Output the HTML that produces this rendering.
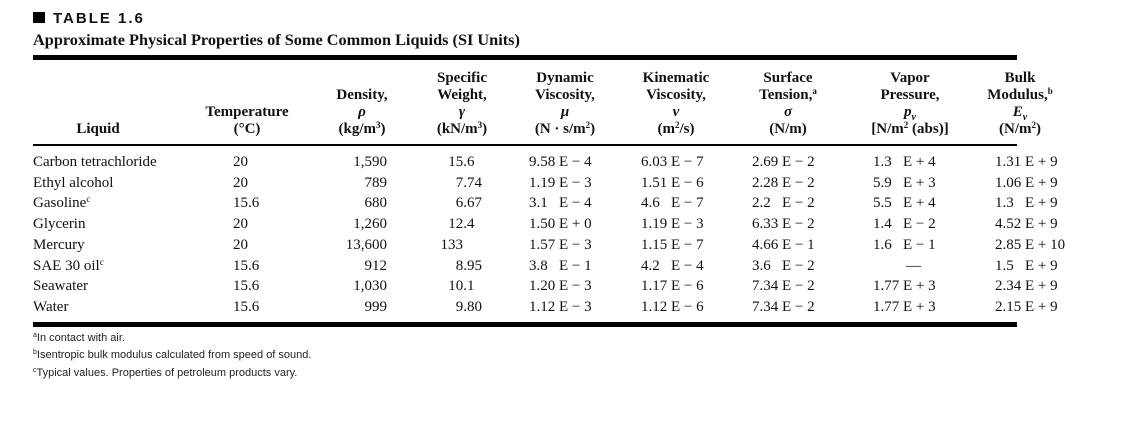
<!DOCTYPE html>
<html><head><meta charset="utf-8">
<style>
body{margin:0;width:1136px;height:444px;background:#fff;position:relative;overflow:hidden;font-family:"Liberation Serif",serif;color:#111}
.a{position:absolute;white-space:pre;line-height:17px}
.h{position:absolute;font-weight:bold;font-size:15px;line-height:17px;text-align:center;transform:translateX(-50%);white-space:pre}
.c{font-size:15px}
.rule{position:absolute;left:33px;width:984px;background:#000}
sup{font-size:9px;line-height:0;vertical-align:5px}
sub{line-height:0}
.fn{position:absolute;left:33px;font-family:"Liberation Sans",sans-serif;font-size:11px;color:#222}
.fn sup{font-size:7px;vertical-align:4px}
</style></head><body>
<div class="a" style="left:33px;top:10px;font-family:'Liberation Sans',sans-serif;font-weight:bold;font-size:15px;letter-spacing:2px"><span style="display:inline-block;width:12px;height:11px;background:#000;margin-right:8px"></span>TABLE 1.6</div>
<div class="a" style="left:33px;top:31px;font-weight:bold;font-size:16.3px">Approximate Physical Properties of Some Common Liquids (SI Units)</div>
<div class="rule" style="top:55px;height:5px"></div>
<div class="rule" style="top:144px;height:2px"></div>
<div class="rule" style="top:322px;height:5px"></div>

<div class="h" style="left:98px;top:121px">Liquid</div>
<div class="h" style="left:247px;top:104px">Temperature
(°C)</div>
<div class="h" style="left:362px;top:87px">Density,
<i>ρ</i>
(kg/m<sup>3</sup>)</div>
<div class="h" style="left:462px;top:70px">Specific
Weight,
<i>γ</i>
(kN/m<sup>3</sup>)</div>
<div class="h" style="left:565px;top:70px">Dynamic
Viscosity,
<i>μ</i>
(N · s/m<sup>2</sup>)</div>
<div class="h" style="left:676px;top:70px">Kinematic
Viscosity,
<i>ν</i>
(m<sup>2</sup>/s)</div>
<div class="h" style="left:788px;top:70px">Surface
Tension,<sup>a</sup>
<i>σ</i>
(N/m)</div>
<div class="h" style="left:910px;top:70px">Vapor
Pressure,
<i>p<sub style="font-size:10px">v</sub></i>
[N/m<sup>2</sup> (abs)]</div>
<div class="h" style="left:1020px;top:70px">Bulk
Modulus,<sup>b</sup>
<i>E<sub style="font-size:10px">v</sub></i>
(N/m<sup>2</sup>)</div>

<div id="body"></div>

<div class="fn" style="top:332px"><sup>a</sup>In contact with air.</div>
<div class="fn" style="top:349px"><sup>b</sup>Isentropic bulk modulus calculated from speed of sound.</div>
<div class="fn" style="top:367px"><sup>c</sup>Typical values. Properties of petroleum products vary.</div>

<script>
const liquids=["Carbon tetrachloride","Ethyl alcohol","Gasoline","Glycerin","Mercury","SAE 30 oil","Seawater","Water"];
const supMark=["","","c","","","c","",""];
const temps=["20","20","15.6","20","20","15.6","15.6","15.6"];
const densities=["1,590","789","680","1,260","13,600","912","1,030","999"];
const specWeights=["15.6","7.74","6.67","12.4","133","8.95","10.1","9.80"];
const dynVisc=[["9.58","− 4"],["1.19","− 3"],["3.1","− 4"],["1.50","+ 0"],["1.57","− 3"],["3.8","− 1"],["1.20","− 3"],["1.12","− 3"]];
const kinVisc=[["6.03","− 7"],["1.51","− 6"],["4.6","− 7"],["1.19","− 3"],["1.15","− 7"],["4.2","− 4"],["1.17","− 6"],["1.12","− 6"]];
const surfTen=[["2.69","− 2"],["2.28","− 2"],["2.2","− 2"],["6.33","− 2"],["4.66","− 1"],["3.6","− 2"],["7.34","− 2"],["7.34","− 2"]];
const vapPress=[["1.3","+ 4"],["5.9","+ 3"],["5.5","+ 4"],["1.4","− 2"],["1.6","− 1"],null,["1.77","+ 3"],["1.77","+ 3"]];
const bulkMod=[["1.31","+ 9"],["1.06","+ 9"],["1.3","+ 9"],["4.52","+ 9"],["2.85","+ 10"],["1.5","+ 9"],["2.34","+ 9"],["2.15","+ 9"]];
const body=document.getElementById('body');
function cell(html,x,y,align,name){
  const d=document.createElement('div');
  d.className='a c';
  
  
  d.innerHTML=html;
  d.style.top=y+'px';
  if(align==='right'){d.style.right=(1136-x)+'px';}else{d.style.left=x+'px';}
  body.appendChild(d);
}
function sci(v,x,y,name){
  if(!v){cell('—',x+33,y,'left',name);return;}
  cell(v[0]+'<span style="position:absolute;left:30px">E '+v[1]+'</span>',x,y,'left',name);
}
liquids.forEach((l,i)=>{
  const y=154+i*20.7;
  cell(l+(supMark[i]?'<sup>'+supMark[i]+'</sup>':''),33,y,'left','liquid-name');
  cell(temps[i],233,y,'left','temperature-value');
  cell(densities[i],387,y,'right','density-value');
  const p=specWeights[i].split('.');
  cell(p[0]+(p[1]!==undefined?'.':''),463+(p[1]!==undefined?4:0),y,'right','specific-weight-value');
  if(p[1]!==undefined) cell(p[1],467,y,'left','specific-weight-fraction');
  sci(dynVisc[i],529,y,'dynamic-viscosity-value');
  sci(kinVisc[i],641,y,'kinematic-viscosity-value');
  sci(surfTen[i],752,y,'surface-tension-value');
  sci(vapPress[i],873,y,'vapor-pressure-value');
  sci(bulkMod[i],995,y,'bulk-modulus-value');
});
</script>
</body></html>
